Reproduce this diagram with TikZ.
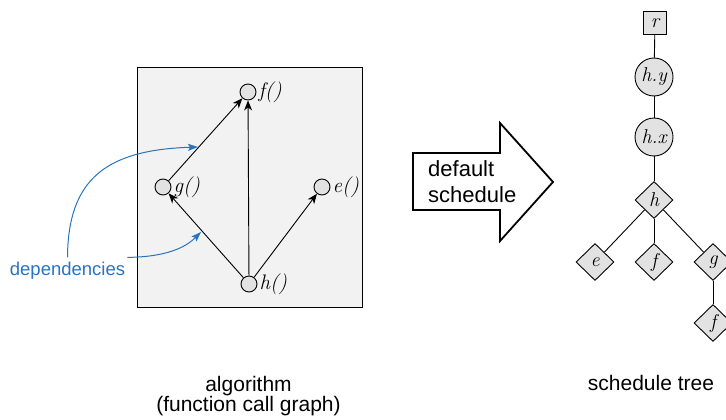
\documentclass[tikz,border=0pt]{standalone}
\usepackage{fontspec}
\setsansfont{Liberation Sans}
\usetikzlibrary{arrows.meta,shapes.geometric}
\definecolor{depblue}{RGB}{40,116,192}
\definecolor{boxgray}{RGB}{242,242,242}
\definecolor{nodegray}{RGB}{226,226,226}
\begin{document}
\begin{tikzpicture}[x=1pt,y=-1pt,
  gnode/.style={circle, draw, fill=nodegray, minimum size=16pt, inner sep=0pt, line width=0.9pt},
  glab/.style={font=\fontsize{21}{23}\selectfont\itshape, inner sep=1pt, anchor=west},
  garr/.style={-{Stealth[length=10pt,width=8pt,inset=3pt]}, line width=0.9pt},
  dep/.style={-{Stealth[length=10pt,width=7pt,inset=2pt]}, line width=1pt, draw=depblue},
  tbase/.style={draw, fill=nodegray, inner sep=0pt, line width=0.9pt, font=\fontsize{20}{22}\selectfont\itshape},
  tsq/.style={tbase, rectangle, minimum size=23pt},
  tcirc/.style={tbase, circle, minimum size=38pt},
  tdia/.style={tbase, diamond, minimum width=38pt, minimum height=37pt},
  tedge/.style={line width=0.9pt},
  sanslab/.style={font=\sffamily\fontsize{21}{21}\selectfont, inner sep=0pt, anchor=base}
]
\useasboundingbox (0,0) rectangle (726,420);

% left: algorithm box
\node[draw, fill=boxgray, minimum width=225pt, minimum height=240pt, anchor=north west, line width=0.9pt, inner sep=0pt] (box) at (137,67) {};

\node[gnode] (f) at (248,92) {};
\node[gnode] (g) at (163,187) {};
\node[gnode] (e) at (322,187) {};
\node[gnode] (h) at (249,284) {};
\node[glab] (fl) at ([xshift=1pt]f.east) {f()};
\node[glab] (gl) at ([xshift=1pt]g.east) {g()};
\node[glab] (el) at ([xshift=1pt]e.east) {e()};
\node[glab] (hl) at ([xshift=1pt]h.east) {h()};

\draw[garr] (g) -- (f);
\draw[garr] (h) -- (f);
\draw[garr] (h) -- (g);
\draw[garr] (h) -- (e);

% dependencies
\node[font=\sffamily\fontsize{18.5}{20}\selectfont, text=depblue, anchor=base, inner sep=4pt] (deps) at (67.5,275) {dependencies};
\coordinate (t1) at (198,147);
\coordinate (t2) at (201,232);
\draw[dep] (deps.north) .. controls (68,180) and (105,150) .. (t1);
\draw[dep] ([xshift=-2pt]deps.north east) .. controls (165,257) and (185,248) .. (t2);

% block arrow
\draw[line width=1.8pt, line join=miter, fill=white] (413,153) -- (500,153) -- (500,123) -- (553,182) -- (500,241) -- (500,210) -- (413,210) -- cycle;
\node[font=\sffamily\fontsize{22}{26}\selectfont, align=left, anchor=west, inner sep=0pt] (ds) at (428,182) {default\\schedule};

% schedule tree
\node[tsq] (r) at (655,23) {r};
\node[tcirc] (hy) at (654,77) {h.y};
\node[tcirc] (hx) at (654,137) {h.x};
\node[tdia] (th) at (654,200) {h};
\node[tdia] (te) at (595,262) {e};
\node[tdia] (tf) at (654,262) {f};
\node[tdia] (tg) at (713,262) {g};
\node[tdia] (tf2) at (713,323) {f};
\draw[tedge] (r) -- (hy);
\draw[tedge] (hy) -- (hx);
\draw[tedge] (hx) -- (th);
\draw[tedge] (th) -- (te);
\draw[tedge] (th) -- (tf);
\draw[tedge] (th) -- (tg);
\draw[tedge] (tg) -- (tf2);

% captions
\node[sanslab] (alg) at (248.5,391) {algorithm};
\node[sanslab] (fcg) at (248.5,411) {(function call graph)};
\node[sanslab] (st) at (651,390) {schedule tree};
\end{tikzpicture}
\end{document}
